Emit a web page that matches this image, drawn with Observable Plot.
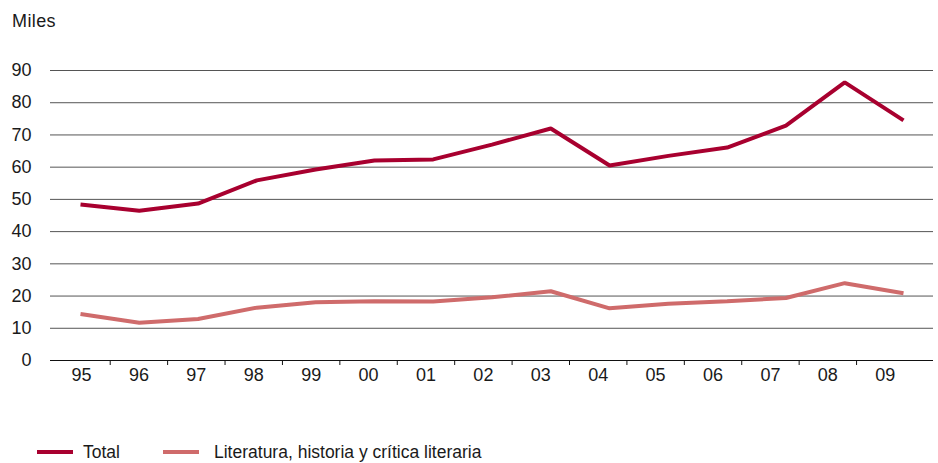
<!DOCTYPE html>
<html>
<head>
<meta charset="utf-8">
<script src="https://cdn.jsdelivr.net/npm/d3@7"></script>
<script src="https://cdn.jsdelivr.net/npm/@observablehq/plot@0.6"></script>
<style>
  html, body { margin: 0; padding: 0; background: #fff; }
  body { width: 938px; height: 463px; overflow: hidden; font-family: "Liberation Sans", Arial, sans-serif; color: #1a1a1a; }
  #wrap { position: relative; width: 938px; height: 463px; }
  #unit { position: absolute; left: 12px; top: 11px; font-size: 18px; letter-spacing: 0.4px; }
  #chart { position: absolute; left: 0; top: 30px; width: 938px; height: 400px; }
  #chart svg { position: absolute; left: 0; top: 0; }
  #legend { position: absolute; left: 0; top: 441px; font-size: 17.5px; }
  .item { position: absolute; top: 0; white-space: nowrap; display: flex; align-items: center; height: 22px; }
  .sw { display: inline-block; width: 36px; height: 4px; }
</style>
</head>
<body>
<div id="wrap">
  <div id="unit">Miles</div>
  <div id="chart"></div>
  <div id="legend"></div>
</div>
<script>
const years = ["95","96","97","98","99","00","01","02","03","04","05","06","07","08","09"];
const totalValues = [48.4, 46.5, 48.7, 55.9, 59.3, 62.1, 62.4, 67.0, 72.0, 60.5, 63.5, 66.1, 72.9, 86.3, 74.5];
const literaturaValues = [14.4, 11.7, 12.9, 16.4, 18.1, 18.4, 18.3, 19.6, 21.5, 16.2, 17.6, 18.4, 19.4, 24.0, 20.9];
const seriesNames = ["Total", "Literatura, historia y crítica literaria"];
const seriesColors = ["#a8002f", "#cf6b6b"];
const yTicks = [0, 10, 20, 30, 40, 50, 60, 70, 80, 90];

const W = 938, H = 400, MT = 40, MB = 70;
const yScale = {domain: [0, 90], range: [H - MB, MT]};

const rows = [];
years.forEach((yr, i) => {
  rows.push({year: yr, series: seriesNames[0], value: totalValues[i]});
  rows.push({year: yr, series: seriesNames[1], value: literaturaValues[i]});
});

const idx = years.map((_, i) => i);
const bounds = idx.slice(0, -1).map(i => i + 0.5);

// Axis / grid layer (category bands)
const axisPlot = Plot.plot({
  width: W, height: H,
  marginLeft: 50, marginRight: 5, marginTop: MT, marginBottom: MB,
  style: {fontFamily: "'Liberation Sans', Arial, sans-serif", fontSize: "18px", color: "#1a1a1a", background: "transparent"},
  x: {type: "linear", domain: [-0.54, 14.84]},
  y: {...yScale},
  marks: [
    Plot.ruleY(yTicks.filter(d => d > 0), {stroke: "#555", strokeWidth: 1, strokeOpacity: 1}),
    Plot.ruleY([0], {stroke: "#111", strokeWidth: 1.2}),
    Plot.axisY(yTicks, {tickSize: 0, tickPadding: 19, fontSize: 18, label: null}),
    Plot.axisX(bounds, {tickSize: 5, tickFormat: () => "", label: null, stroke: "#111"}),
    Plot.axisX(idx, {tickSize: 0, tickPadding: 8, tickFormat: i => years[i], fontSize: 18, label: null})
  ]
});

// Line layer
const linePlot = Plot.plot({
  width: W, height: H,
  marginLeft: 80, marginRight: 35, marginTop: MT, marginBottom: MB,
  style: {background: "transparent"},
  x: {type: "point", domain: years, padding: 0, round: false, axis: null},
  y: {...yScale, axis: null},
  color: {domain: seriesNames, range: seriesColors},
  marks: [
    Plot.line(rows, {x: "year", y: "value", z: "series", stroke: "series", strokeWidth: 4, strokeLinejoin: "miter", strokeLinecap: "butt"})
  ]
});

const chart = document.getElementById("chart");
chart.appendChild(axisPlot);
chart.appendChild(linePlot);

const legend = document.getElementById("legend");
const legendX = [37, 163];
const legendGap = [10, 15];
seriesNames.forEach((name, i) => {
  const it = document.createElement("div");
  it.className = "item";
  it.style.left = legendX[i] + "px";
  const sw = document.createElement("span");
  sw.className = "sw";
  sw.style.background = seriesColors[i];
  sw.style.marginRight = legendGap[i] + "px";
  it.appendChild(sw);
  it.appendChild(document.createTextNode(name));
  legend.appendChild(it);
});
</script>
</body>
</html>
